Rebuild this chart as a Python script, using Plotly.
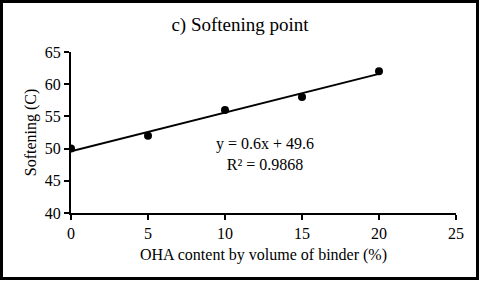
import numpy as np
import plotly.graph_objects as go

oha_content = [0, 5, 10, 15, 20]
softening = [50, 52, 56, 58, 62]
x_ticks = [0, 5, 10, 15, 20, 25]
y_ticks = [40, 45, 50, 55, 60, 65]

slope, intercept = np.polyfit(oha_content, softening, 1)
pred = np.polyval([slope, intercept], oha_content)
ss_res = float(np.sum((np.array(softening) - pred) ** 2))
ss_tot = float(np.sum((np.array(softening) - np.mean(softening)) ** 2))
r2 = 1 - ss_res / ss_tot
trend_x = [min(oha_content), max(oha_content)]
trend_y = [slope * v + intercept for v in trend_x]

FONT = "Liberation Serif, Times New Roman, serif"
W, H = 480, 282
ml, mr, mt, mb = 71, 24, 52, 69
pw, ph = W - ml - mr, H - mt - mb

fig = go.Figure()
fig.add_trace(go.Scatter(x=trend_x, y=trend_y, mode="lines",
                         line=dict(color="black", width=2), showlegend=False,
                         hoverinfo="skip"))
fig.add_trace(go.Scatter(x=oha_content, y=softening, mode="markers",
                         marker=dict(color="black", size=8), showlegend=False))

fig.add_annotation(
    xref="paper", yref="paper",
    x=(265 - ml) / pw, y=(213 - 154) / ph,
    text=f"y = {slope:.1f}x + {intercept:.1f}<br>R² = {r2:.4f}",
    showarrow=False, align="center", xanchor="center", yanchor="middle",
    font=dict(family=FONT, size=16, color="black"),
)

# chart border
fig.add_shape(type="rect", xref="paper", yref="paper",
              x0=(1.5 - ml) / pw, x1=(477.5 - ml) / pw,
              y0=(mt + ph - 278.5) / ph, y1=(mt + ph - 1.5) / ph,
              line=dict(color="black", width=3))

axis_common = dict(
    showgrid=False, zeroline=False, showline=True, linecolor="black", linewidth=2,
    ticks="outside", ticklen=5, tickwidth=2, tickcolor="black",
    tickfont=dict(family=FONT, size=16, color="black"),
)

fig.update_layout(
    width=W, height=H,
    margin=dict(l=ml, r=mr, t=mt, b=mb),
    paper_bgcolor="white", plot_bgcolor="white",
    title=dict(text="c) Softening point", x=0.5, xanchor="center",
               xref="container", y=1 - 24 / H, yanchor="middle",
               font=dict(family=FONT, size=19, color="black")),
    xaxis=dict(range=[0, 25], tickvals=x_ticks,
               title=dict(text="OHA content by volume of binder (%)", standoff=8,
                          font=dict(family=FONT, size=16, color="black")),
               **axis_common),
    yaxis=dict(range=[40, 65], tickvals=y_ticks,
               title=dict(text="Softening (C)", standoff=4,
                          font=dict(family=FONT, size=16, color="black")),
               **axis_common),
)

fig.write_html("out.html",
               config={"displayModeBar": False},
               post_script="document.body.style.margin='0';document.body.style.overflow='hidden';")
